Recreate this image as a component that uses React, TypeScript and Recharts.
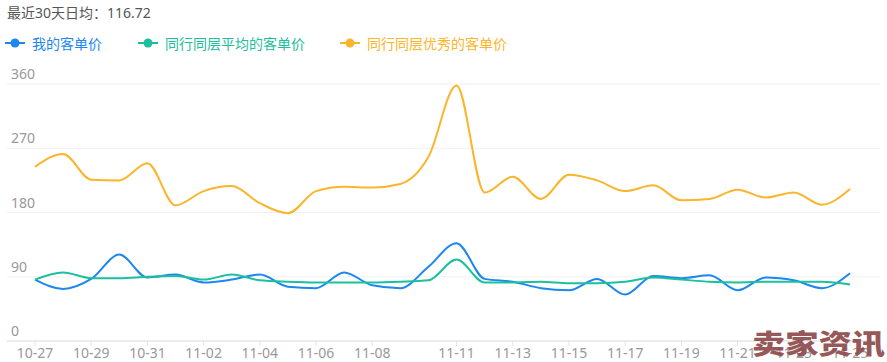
import { LineChart, Line, XAxis, YAxis, CartesianGrid } from 'recharts';

const dates = [
    '10-27', '10-28', '10-29', '10-30', '10-31', '11-01', '11-02', '11-03', '11-04', '11-05',
    '11-06', '11-07', '11-08', '11-09', '11-10', '11-11', '11-12', '11-13', '11-14', '11-15',
    '11-16', '11-17', '11-18', '11-19', '11-20', '11-21', '11-22', '11-23', '11-24', '11-25',
];
const shownDates = [
    '10-27', '10-29', '10-31', '11-02', '11-04', '11-06', '11-08', '11-11',
    '11-13', '11-15', '11-17', '11-19', '11-21', '11-23', '11-25',
];
const mine = [
    86, 73, 87, 121, 89, 93, 82, 86, 93, 76,
    74, 96, 78, 74, 104, 137, 87, 83, 74, 71,
    87, 65, 91, 88, 92, 71, 89, 85, 74, 95,
];
const peerAvg = [
    86, 96, 88, 88, 90, 91, 86, 93, 85, 83,
    82, 82, 82, 83, 85, 114, 82, 82, 83, 81,
    81, 83, 89, 86, 83, 82, 83, 83, 83, 79,
];
const peerTop = [
    244, 262, 226, 225, 249, 190, 210, 217, 193, 179,
    210, 216, 215, 220, 258, 358, 208, 230, 199, 233,
    225, 210, 218, 197, 199, 212, 201, 208, 191, 213,
];
const yTicks = [0, 90, 180, 270, 360];

const series = [
    { key: 'mine', name: '我的客单价', color: '#1b87ef' },
    { key: 'peerAvg', name: '同行同层平均的客单价', color: '#1cc09d' },
    { key: 'peerTop', name: '同行同层优秀的客单价', color: '#fbb52c' },
];

const data = dates.map((d, i) => ({
    date: d,
    mine: mine[i],
    peerAvg: peerAvg[i],
    peerTop: peerTop[i],
}));

const font = '"Noto Sans", "Noto Sans CJK SC", sans-serif';
const legendX = [5, 138, 340];

function YTick(props: any) {
    const { y, payload } = props;
    return (
        <text x={11} y={y - 5} fill="#999" fontSize={14} fontFamily={font} textAnchor="start">
            {payload.value}
        </text>
    );
}

export default function App() {
    return (
        <div style={{ position: 'absolute', left: 0, top: 0, width: 887, height: 362, background: '#fff', fontFamily: font, overflow: 'hidden' }}>
            <div style={{ position: 'absolute', left: 7, top: 3, fontSize: 14, color: '#555', lineHeight: '20px' }}>
                最近30天日均：116.72
            </div>
            {series.map((s, i) => (
                <div
                    key={s.key}
                    style={{ position: 'absolute', left: legendX[i], top: 33, height: 20, display: 'flex', alignItems: 'center', fontSize: 14, color: s.color }}
                >
                    <svg width={20} height={10} style={{ marginRight: 7 }}>
                        <line x1={0} y1={5} x2={20} y2={5} stroke={s.color} strokeWidth={2} />
                        <circle cx={10} cy={5} r={4.5} fill={s.color} />
                    </svg>
                    {s.name}
                </div>
            ))}
            <div style={{ position: 'absolute', left: 0, top: 0 }}>
                <LineChart width={887} height={362} data={data} margin={{ top: 84, right: 7, bottom: 0, left: 6 }}>
                    <CartesianGrid vertical={false} stroke="#eff0f4" />
                    <XAxis
                        dataKey="date"
                        ticks={shownDates}
                        interval={0}
                        height={21}
                        padding={{ left: 28, right: 30 }}
                        axisLine={{ stroke: '#e0e3ee' }}
                        tickLine={{ stroke: '#e0e3ee' }}
                        tickSize={5}
                        tick={{ fill: '#999', fontSize: 14, fontFamily: font }}
                        tickMargin={2}
                    />
                    <YAxis
                        domain={[0, 360]}
                        ticks={yTicks}
                        width={1}
                        axisLine={false}
                        tickLine={false}
                        tick={(p: any) => <YTick {...p} />}
                    />
                    {series.map((s) => (
                        <Line
                            key={s.key}
                            type="monotone"
                            dataKey={s.key}
                            name={s.name}
                            stroke={s.color}
                            strokeWidth={2}
                            dot={false}
                            isAnimationActive={false}
                        />
                    ))}
                </LineChart>
            </div>
            <div style={{ position: 'absolute', left: 752, top: 329, fontSize: 27, fontWeight: 900, color: '#8e4a4a', opacity: 0.92, fontFamily: '"Noto Sans CJK SC", sans-serif', lineHeight: '28px', whiteSpace: 'nowrap', transform: 'scaleX(1.23)', transformOrigin: 'left top' }}>
                卖家资讯
            </div>
        </div>
    );
}
